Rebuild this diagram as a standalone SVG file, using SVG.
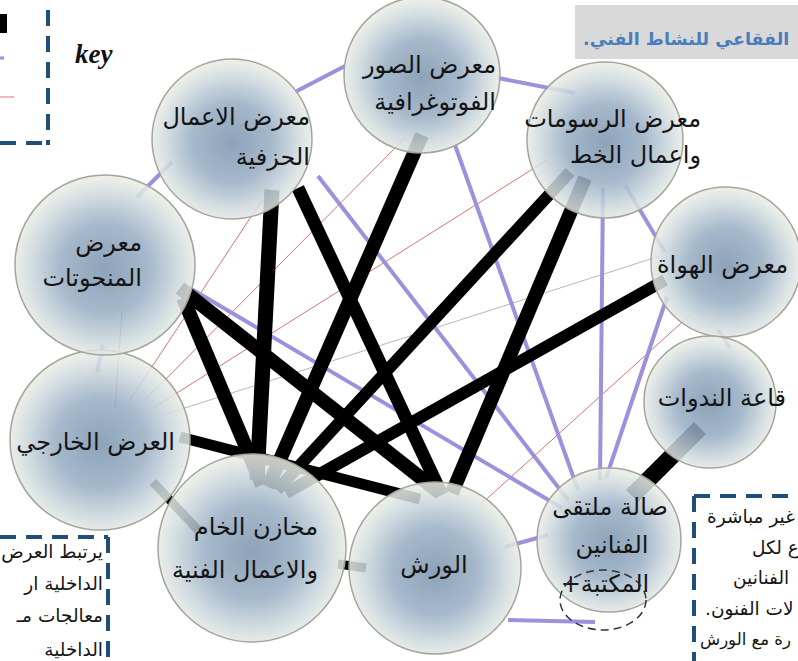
<svg xmlns="http://www.w3.org/2000/svg" width="798" height="661" viewBox="0 0 798 661">
<defs>
<radialGradient id="bub" cx="50%" cy="52%" r="50%">
<stop offset="0%" stop-color="#7b93ae"/>
<stop offset="50%" stop-color="#98aec3"/>
<stop offset="80%" stop-color="#c9d5dc"/>
<stop offset="100%" stop-color="#e8ece4"/>
</radialGradient>
<style>
.blk{stroke:#000;fill:none;stroke-linecap:butt}
.pur{stroke:#9d90dc;stroke-width:4;fill:none}
.red{stroke:#e07070;stroke-width:1;fill:none}
.gry{stroke:#b8b8b8;stroke-width:1;fill:none}
.bub{fill:url(#bub);fill-opacity:0.86;stroke:#a2a69c;stroke-width:1.5}
.t{font-family:"DejaVu Sans",sans-serif;font-size:24px;fill:#151515}
.r{direction:rtl}
.dash{stroke:#1f4e79;stroke-width:4;stroke-dasharray:16 10;fill:none}
.note{font-family:"DejaVu Sans",sans-serif;font-size:18.5px;fill:#151515;direction:rtl}
</style>
</defs>
<rect width="798" height="661" fill="#fff"/>

<!-- key -->
<g id="key">
<rect x="0" y="14" width="7" height="19" fill="#000"/>
<line x1="0" y1="58" x2="4" y2="58" stroke="#9d90dc" stroke-width="3"/>
<line x1="0" y1="97" x2="14" y2="97" class="red"/>
<path class="dash" d="M48,10 L48,145 M0,143 L50,143"/>
<text x="75" y="63" font-family="Liberation Serif, serif" font-style="italic" font-weight="bold" font-size="27" fill="#111">key</text>
</g>

<!-- title -->
<g id="title">
<rect x="575" y="5" width="223" height="54" fill="#d9d9d9"/>
<text x="583" y="45" class="r" text-anchor="end" font-family="DejaVu Sans, sans-serif" font-weight="bold" font-size="17.5" fill="#4a7ebb">الفقاعي للنشاط الفني.</text>
</g>

<!-- connectors -->
<g id="connectors">
<path class="red" d="M122,312 L115,407"/>
<path class="red" d="M130,400 L262,200"/>
<path class="red" d="M143,402 L405,138"/>
<path class="red" d="M153,408 L547,160"/>
<path class="gry" d="M163,415 L660,256"/>
<path class="red" d="M480,505 L690,315"/>

<path class="pur" d="M295,92 L345,66"/>
<path class="pur" d="M498,78 L575,93"/>
<path class="pur" d="M137,197 L172,162"/>
<path class="pur" d="M103,345 L97,372"/>
<path class="pur" d="M625,185 L665,252"/>
<path class="pur" d="M718,330 L730,348"/>
<path class="pur" d="M667,297 L606,478"/>
<path class="pur" d="M603,188 L600,480"/>
<path class="pur" d="M455,145 L578,490"/>
<path class="pur" d="M318,176 L568,500"/>
<path class="pur" d="M188,287 L562,508"/>
<path class="pur" d="M505,547 L548,535"/>
<path class="pur" d="M508,620 L595,622"/>

<path class="blk" stroke-width="15" d="M272,190 L257,480"/>
<path class="blk" stroke-width="13" d="M298,188 L442,495"/>
<path class="blk" stroke-width="14" d="M422,135 L268,487"/>
<path class="blk" stroke-width="12" d="M570,172 L277,490"/>
<path class="blk" stroke-width="14" d="M585,178 L452,493"/>
<path class="blk" stroke-width="12" d="M665,280 L286,493"/>
<path class="blk" stroke-width="14" d="M180,288 L440,493"/>
<path class="blk" stroke-width="14" d="M183,298 L262,485"/>
<path class="blk" stroke-width="11" d="M180,437 L420,499"/>
<path class="blk" stroke-width="17" d="M700,428 L632,496"/>
<path class="blk" stroke-width="9" d="M153,482 L198,530"/>
<path class="blk" stroke-width="9" d="M338,564 L366,568"/>
</g>

<!-- nodes -->
<g id="n-hazafia">
<circle class="bub" cx="232" cy="139" r="80"/>
<text class="t r" x="310" y="125" text-anchor="start">معرض الاعمال</text>
<text class="t r" x="310" y="165" text-anchor="start">الحزفية</text>
</g>
<g id="n-photo">
<circle class="bub" cx="422" cy="75" r="78"/>
<text class="t r" x="496" y="73" text-anchor="start">معرض الصور</text>
<text class="t r" x="496" y="110" text-anchor="start">الفوتوغرافية</text>
</g>
<g id="n-rasm">
<circle class="bub" cx="605" cy="140" r="78"/>
<text class="t r" x="701" y="127" text-anchor="start">معرض الرسومات</text>
<text class="t r" x="701" y="163" text-anchor="start">واعمال الخط</text>
</g>
<g id="n-hawat">
<circle class="bub" cx="726" cy="262" r="75"/>
<text class="t r" x="788" y="273" text-anchor="start">معرض الهواة</text>
</g>
<g id="n-nadawat">
<circle class="bub" cx="710" cy="402" r="66"/>
<text class="t r" x="786" y="406" text-anchor="start">قاعة الندوات</text>
</g>
<g id="n-sala">
<circle class="bub" cx="609" cy="540" r="72"/>
<text class="t r" x="610" y="515" text-anchor="middle">صالة ملتقى</text>
<text class="t r" x="612" y="553" text-anchor="middle">الفنانين</text>
<text class="t" x="605" y="592" text-anchor="middle">+المكتبة</text>
<ellipse cx="603" cy="600" rx="43" ry="30" fill="none" stroke="#333" stroke-width="1.5" stroke-dasharray="8 5"/>
</g>
<g id="n-wirash">
<circle class="bub" cx="435" cy="568" r="86"/>
<text class="t r" x="434" y="573" text-anchor="middle">الورش</text>
</g>
<g id="n-makhazen">
<circle class="bub" cx="252" cy="548" r="94"/>
<text class="t r" x="318" y="535" text-anchor="start">مخازن الخام</text>
<text class="t r" x="318" y="578" text-anchor="start">والاعمال الفنية</text>
</g>
<g id="n-kharji">
<circle class="bub" cx="100" cy="440" r="90"/>
<text class="t r" x="175" y="450" text-anchor="start">العرض الخارجي</text>
</g>
<g id="n-manhutat">
<circle class="bub" cx="105" cy="265" r="90"/>
<text class="t r" x="142" y="251" text-anchor="start">معرض</text>
<text class="t r" x="142" y="286" text-anchor="start">المنحوتات</text>
</g>

<!-- note boxes -->
<g id="note-left">
<path class="dash" d="M0,537 L108,537 M108,537 L108,661"/>
<text class="note" x="103" y="558" text-anchor="start">يرتبط العرض</text>
<text class="note" x="103" y="590" text-anchor="start">الداخلية ار</text>
<text class="note" x="103" y="622" text-anchor="start">معالجات مـ</text>
<text class="note" x="103" y="656" text-anchor="start">الداخلية</text>
</g>
<g id="note-right">
<path class="dash" d="M694,496 L798,496 M694,496 L694,661"/>
<text class="note" x="707" y="523" text-anchor="end">غير مباشرة</text>
<text class="note" x="752" y="554" text-anchor="end">ع لكل</text>
<text class="note" x="733" y="584" text-anchor="end">الفنانين</text>
<text class="note" x="705" y="615" text-anchor="end">لات الفنون.</text>
<text class="note" x="700" y="645" text-anchor="end" style="font-size:16.5px">رة مع الورش</text>
</g>
</svg>
